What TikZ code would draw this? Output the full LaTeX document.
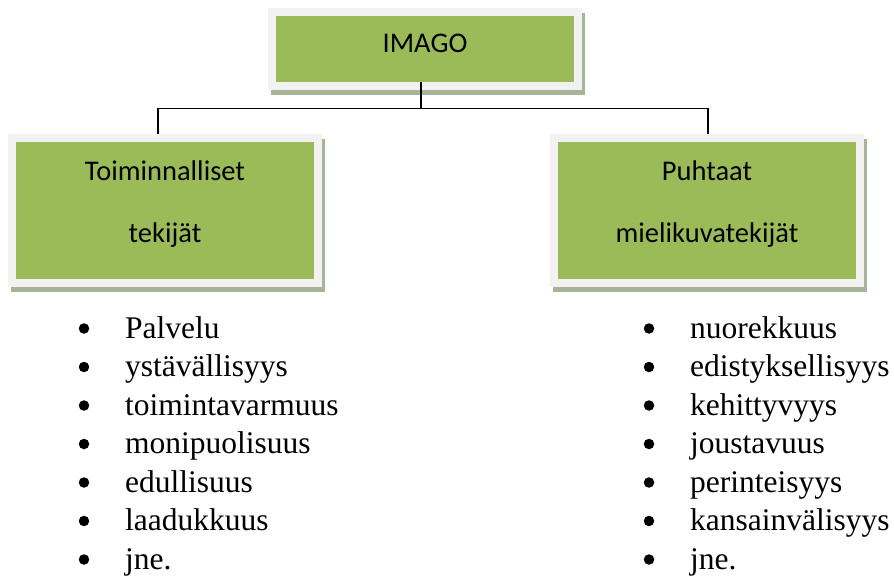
\documentclass[tikz,border=0pt]{standalone}
\usepackage{fontspec}
\setmainfont{Liberation Serif}
\newfontfamily\boxfont{Carlito}
\usetikzlibrary{backgrounds}
\definecolor{boxgreen}{HTML}{9BBB59}
\definecolor{boxframe}{HTML}{F2F2F2}
\definecolor{boxshadow}{HTML}{A9B397}

\begin{document}
\begin{tikzpicture}[x=1pt,y=-1pt,
  greenbox/.style={rectangle, fill=boxgreen, minimum width=298pt, inner sep=0pt},
  boxlabel/.style={font=\boxfont\fontsize{28.5}{34}\selectfont, inner sep=0pt, anchor=base},
  conn/.style={draw=black, line width=1.3pt},
  bulletmark/.style={circle, fill=black, inner sep=0pt, minimum size=10.5pt},
  listitem/.style={font=\fontsize{31.5}{38.5}\selectfont, inner sep=0pt, anchor=base west}]
\useasboundingbox (0,0) rectangle (894,580);

% green boxes
\node[greenbox, minimum height=66pt]  (imago) at (425,49)    {};
\node[greenbox, minimum height=137pt] (lbox)  at (165,210.5) {};
\node[greenbox, minimum height=137pt] (rbox)  at (707,210.5) {};

% light frame and offset shadow behind each box
\begin{scope}[on background layer]
  \foreach \b in {imago,lbox,rbox}{
    \fill[boxshadow] ([shift={(-5,-3)}]\b.north west) rectangle ([shift={(11,13)}]\b.south east);
    \fill[boxframe]  ([shift={(-8,-8)}]\b.north west) rectangle ([shift={(8,8)}]\b.south east);
  }
\end{scope}

% box labels
\node[boxlabel] (imagotxt) at (425,53)  {IMAGO};
\node[boxlabel] (ltxt1)    at (165,181) {Toiminnalliset};
\node[boxlabel] (ltxt2)    at (165,242) {tekijät};
\node[boxlabel] (rtxt1)    at (707,181) {Puhtaat};
\node[boxlabel] (rtxt2)    at (707,242) {mielikuvatekijät};

% tree connectors
\draw[conn] ([xshift=-4pt]imago.south) -- ++(0,26) coordinate (fork);
\draw[conn] ([xshift=-7pt,yshift=8pt]lbox.north) |- (fork) -| ([xshift=1pt,yshift=8pt]rbox.north);

% bullet lists
\foreach \t [count=\i] in {Palvelu, ystävällisyys, toimintavarmuus, monipuolisuus, edullisuus, laadukkuus, jne.}{
  \node[bulletmark] (lb\i) at (84,{328.5+38.5*(\i-1)}) {};
  \node[listitem]   (li\i) at (125,{338+38.5*(\i-1)}) {\t};
}
\foreach \t [count=\i] in {nuorekkuus, edistyksellisyys, kehittyvyys, joustavuus, perinteisyys, kansainvälisyys, jne.}{
  \node[bulletmark] (rb\i) at (649,{328.5+38.5*(\i-1)}) {};
  \node[listitem]   (ri\i) at (690,{338+38.5*(\i-1)}) {\t};
}
\end{tikzpicture}
\end{document}
